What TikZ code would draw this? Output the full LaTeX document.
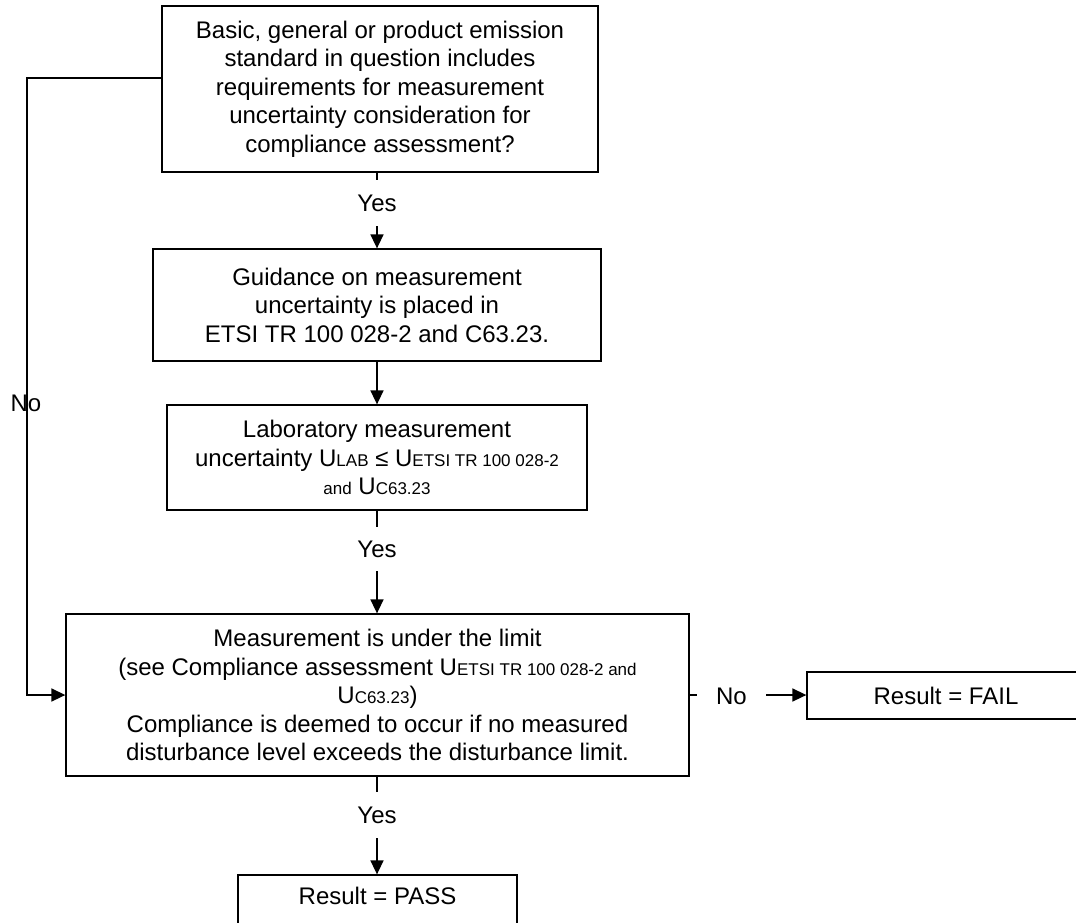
\documentclass[tikz,border=0pt]{standalone}
\usepackage{fontspec}
\setmainfont{Liberation Sans}
\usetikzlibrary{arrows.meta}
\newcommand{\sm}[1]{{\fontsize{17}{20}\selectfont #1}}
\begin{document}
\begin{tikzpicture}[x=1pt,y=-1pt,
  box/.style={draw, line width=1.3pt, rectangle, inner sep=0pt, align=center,
    font=\fontsize{24}{28.5}\selectfont},
  lbl/.style={inner sep=0pt, font=\fontsize{24}{28.5}\selectfont},
  conn/.style={line width=1.6pt},
  arr/.style={conn, -{Triangle[length=14pt,width=13pt]}}]
\useasboundingbox (0,0) rectangle (1076,922);
\clip (0,0) rectangle (1076,922);

\node[box, minimum width=436, minimum height=166] (B1) at (380,89)
  {Basic, general or product emission\\standard in question includes\\requirements for measurement\\uncertainty consideration for\\compliance assessment?};
\node[box, minimum width=448, minimum height=112] (B2) at (377,305)
  {Guidance on measurement\\uncertainty is placed in\\ETSI TR 100 028-2 and C63.23.};
\node[box, minimum width=420, minimum height=105] (B3) at (377,457.5)
  {Laboratory measurement\\uncertainty U\sm{LAB} ≤ U\sm{ETSI TR 100 028-2}\\\sm{and} U\sm{C63.23}};
\node[box, minimum width=623, minimum height=162] (B4) at (377.5,695)
  {Measurement is under the limit\\(see Compliance assessment U\sm{ETSI TR 100 028-2 and}\\U\sm{C63.23})\\Compliance is deemed to occur if no measured\\disturbance level exceeds the disturbance limit.};
\node[box, minimum width=278, minimum height=47] (FAIL) at (946,695.5) {Result = FAIL};
\node[box, minimum width=279, minimum height=54] (PASS) at (377.5,902) {\raisebox{12pt}{Result = PASS}};

\node[lbl, minimum height=46] (yes1) at (377,203) {Yes};
\node[lbl, minimum height=44] (yes2) at (377,549) {Yes};
\node[lbl, minimum height=46] (yes3) at (377,815) {Yes};
\node[lbl, minimum width=69] (noR) at (731.5,696) {No};
\node[lbl] (noL) at (26,403) {No};
\coordinate (c1) at (27,78);
\coordinate (c2) at (27,695);

\draw[conn] (B1.south -| yes1) -- (yes1.north);
\draw[arr] (yes1.south) -- (yes1 |- B2.north);
\draw[arr] (B2.south -| yes1) -- (B3.north -| yes1);
\draw[conn] (B3.south -| yes2) -- (yes2.north);
\draw[arr] (yes2.south) -- (yes2 |- B4.north);
\draw[conn] (B4.south -| yes3) -- (yes3.north);
\draw[arr] (yes3.south) -- (yes3 |- PASS.north);
\draw[conn] (B4.east) -- (B4.east -| noR.west);
\draw[arr] (B4.east -| noR.east) -- (FAIL.west |- B4.east);
\draw[arr] (c1 -| B1.west) -- (c1) -- (noL.center -| c1) -- (c2) -- (B4.west);
\end{tikzpicture}
\end{document}
